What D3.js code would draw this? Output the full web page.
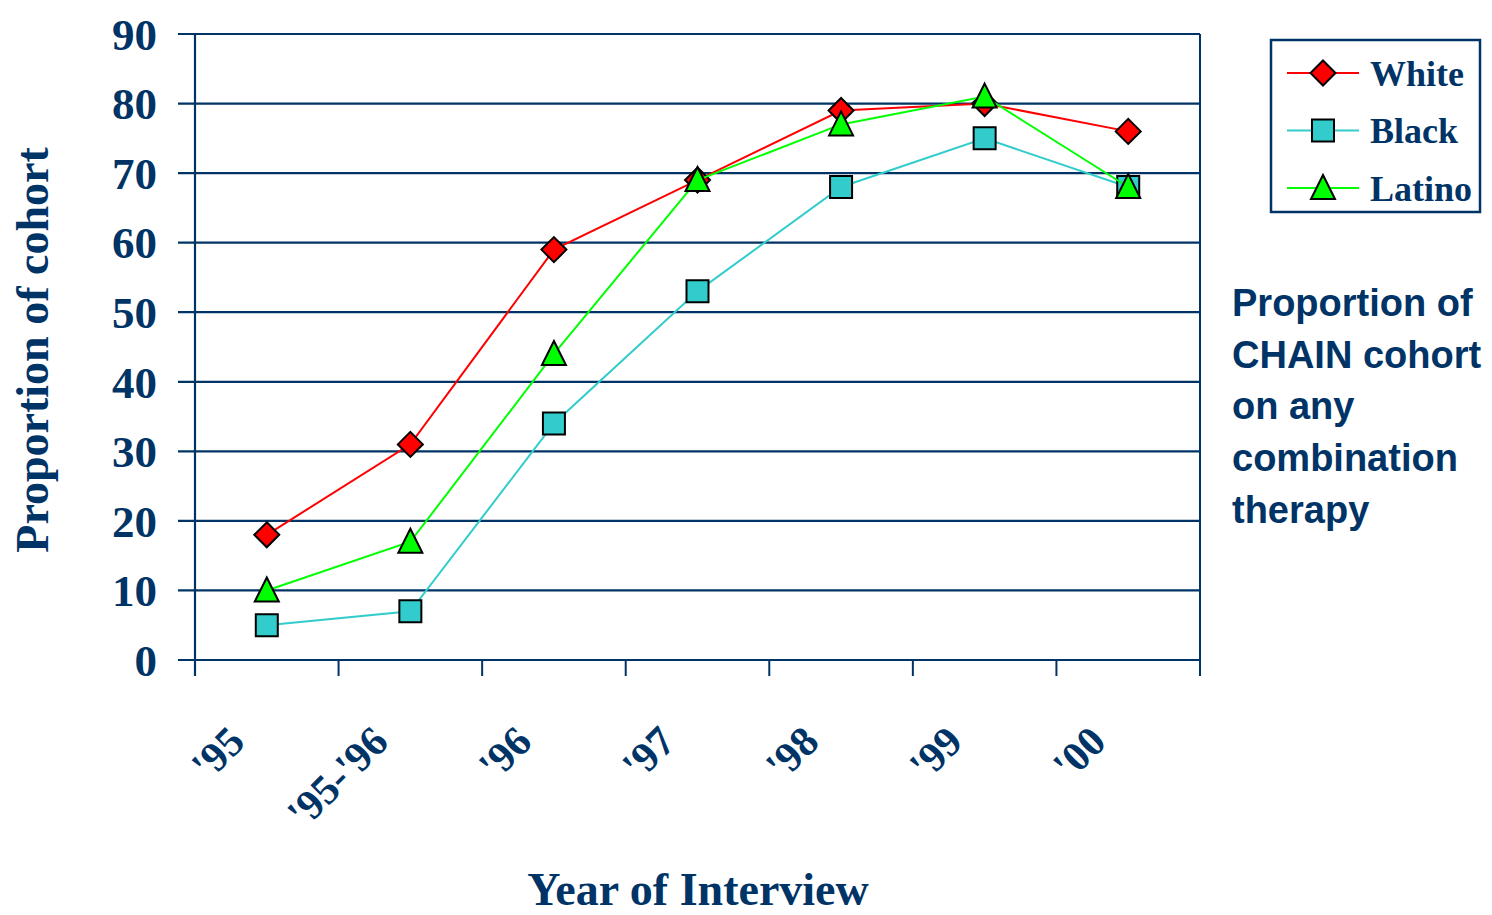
<!DOCTYPE html>
<html>
<head>
<meta charset="utf-8">
<script src="https://cdn.jsdelivr.net/npm/d3@7"></script>
<style>
  html, body { margin: 0; padding: 0; background: #ffffff; }
  svg { display: block; }
</style>
</head>
<body>
<svg id="chart" width="1492" height="915"></svg>
<script>
const categories = ["'95", "'95-'96", "'96", "'97", "'98", "'99", "'00"];
const whiteValues  = [18, 31, 59, 69, 79, 80, 76];
const blackValues  = [5, 7, 34, 53, 68, 75, 68];
const latinoValues = [10, 17, 44, 69, 77, 81, 68];
const yTicks = [0, 10, 20, 30, 40, 50, 60, 70, 80, 90];
const seriesNames = ["White", "Black", "Latino"];
const sideText = ["Proportion of", "CHAIN cohort", "on any", "combination", "therapy"];

const navy = "#003366";
const series = [
  { name: seriesNames[0], values: whiteValues,  color: "#ff0000", fill: "#ff0000", shape: "diamond" },
  { name: seriesNames[1], values: blackValues,  color: "#33cccc", fill: "#33cccc", shape: "square" },
  { name: seriesNames[2], values: latinoValues, color: "#00ff00", fill: "#00ff00", shape: "triangle" }
];

const svg = d3.select("#chart");
const pLeft = 195, pRight = 1200, pTop = 34, pBottom = 660;

const x = d3.scaleBand().domain(categories).range([pLeft, pRight]).padding(0);
const y = d3.scaleLinear().domain([0, 90]).range([pBottom, pTop]);

const serif = "'Liberation Serif', 'Times New Roman', serif";
const sans = "'Liberation Sans', Arial, sans-serif";

// gridlines
svg.append("g").selectAll("line").data(yTicks).join("line")
  .attr("x1", pLeft - 17).attr("x2", pRight)
  .attr("y1", d => y(d)).attr("y2", d => y(d))
  .attr("stroke", navy).attr("stroke-width", 2.2);

// right border
svg.append("line").attr("x1", pRight).attr("x2", pRight)
  .attr("y1", pTop).attr("y2", pBottom + 16)
  .attr("stroke", navy).attr("stroke-width", 2);

// y axis line
svg.append("line").attr("x1", pLeft).attr("x2", pLeft)
  .attr("y1", pTop).attr("y2", pBottom + 16)
  .attr("stroke", navy).attr("stroke-width", 2.2);

// x ticks
const xTickPos = categories.map(c => x(c)).concat([pRight]);
svg.append("g").selectAll("line").data(xTickPos).join("line")
  .attr("x1", d => d).attr("x2", d => d)
  .attr("y1", pBottom).attr("y2", pBottom + 16)
  .attr("stroke", navy).attr("stroke-width", 2);

// y tick labels
svg.append("g").selectAll("text").data(yTicks).join("text")
  .attr("x", 157).attr("y", d => y(d))
  .attr("dy", "0.35em")
  .attr("text-anchor", "end")
  .attr("font-family", serif).attr("font-weight", "bold").attr("font-size", 45)
  .attr("fill", navy)
  .text(d => d);

// x tick labels
svg.append("g").selectAll("text").data(categories).join("text")
  .attr("transform", d => `translate(${x(d) + x.bandwidth() / 2 - 20},744) rotate(-45)`)
  .attr("text-anchor", "end")
  .attr("font-family", serif).attr("font-weight", "bold").attr("font-size", 42)
  .attr("fill", navy)
  .text(d => d);

// axis titles
svg.append("text")
  .attr("transform", "translate(32,350) rotate(-90)")
  .attr("dy", "0.35em")
  .attr("text-anchor", "middle")
  .attr("font-family", serif).attr("font-weight", "bold").attr("font-size", 46)
  .attr("fill", navy)
  .text("Proportion of cohort");

svg.append("text")
  .attr("x", 698).attr("y", 905)
  .attr("text-anchor", "middle")
  .attr("font-family", serif).attr("font-weight", "bold").attr("font-size", 46)
  .attr("fill", navy)
  .text("Year of Interview");

// markers
function marker(sel, shape) {
  const paths = {
    diamond: "M0,-12.5L12.5,0L0,12.5L-12.5,0Z",
    square: "M-11,-11H11V11H-11Z",
    triangle: "M0,-13L12,11H-12Z"
  };
  return sel.attr("d", paths[shape]);
}

const line = d3.line().x((d, i) => x(categories[i]) + x.bandwidth() / 2).y(d => y(d));

series.forEach(s => {
  const g = svg.append("g");
  g.append("path").datum(s.values)
    .attr("d", line).attr("fill", "none")
    .attr("stroke", s.color).attr("stroke-width", 2);
  g.selectAll("path.m").data(s.values).join("path")
    .attr("class", "m")
    .call(sel => marker(sel, s.shape))
    .attr("transform", (d, i) => `translate(${x(categories[i]) + x.bandwidth() / 2},${y(d)})`)
    .attr("fill", s.fill).attr("stroke", "#000").attr("stroke-width", 2);
});

// legend
const lg = svg.append("g");
lg.append("rect").attr("x", 1271).attr("y", 40).attr("width", 209).attr("height", 172)
  .attr("fill", "#fff").attr("stroke", navy).attr("stroke-width", 2.5);
series.forEach((s, i) => {
  const ly = 73 + i * 57.5;
  lg.append("line").attr("x1", 1287).attr("x2", 1359).attr("y1", ly).attr("y2", ly)
    .attr("stroke", s.color).attr("stroke-width", 2);
  lg.append("path").call(sel => marker(sel, s.shape))
    .attr("transform", `translate(1323,${ly})`)
    .attr("fill", s.fill).attr("stroke", "#000").attr("stroke-width", 2);
  lg.append("text").attr("x", 1370).attr("y", ly).attr("dy", "0.35em")
    .attr("font-family", serif).attr("font-weight", "bold").attr("font-size", 36)
    .attr("fill", navy).text(s.name);
});

// side text
svg.append("g").selectAll("text").data(sideText).join("text")
  .attr("x", 1232).attr("y", (d, i) => 316 + i * 51.7)
  .attr("font-family", sans).attr("font-weight", "bold").attr("font-size", 38)
  .attr("fill", navy)
  .text(d => d);
</script>
</body>
</html>
